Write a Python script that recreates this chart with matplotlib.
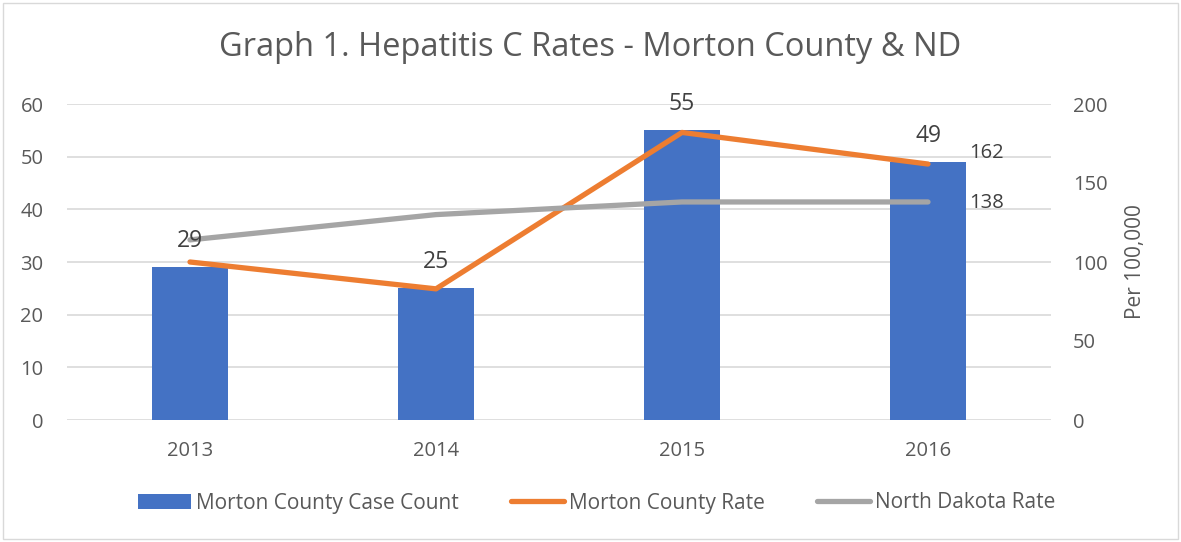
import matplotlib.pyplot as plt
from matplotlib.patches import Rectangle

# chart data
years = ["2013", "2014", "2015", "2016"]
case_count = [29, 25, 55, 49]
morton_rate = [100, 83, 182, 162]
nd_rate = [114, 130, 138, 138]

plt.rcParams['font.family'] = ['Open Sans', 'DejaVu Sans']
txt = '#595959'

fig = plt.figure(figsize=(11.81, 5.42), dpi=100)
ax = fig.add_axes([67 / 1181, 1 - 420 / 542, 984 / 1181, 316 / 542])
ax2 = ax.twinx()

x = list(range(len(years)))
bars = ax.bar(x, case_count, width=0.31, color='#4472C4', zorder=2,
              label='Morton County Case Count')
ax2.plot(x, morton_rate, color='#ED7D31', lw=3.8, solid_capstyle='round',
         label='Morton County Rate', zorder=3)
ax2.plot(x, nd_rate, color='#A5A5A5', lw=3.8, solid_capstyle='round',
         label='North Dakota Rate', zorder=3)

ax.set_xlim(-0.5, 3.5)
ax.set_ylim(0, 60)
ax.set_yticks(range(0, 61, 10))
ax2.set_ylim(0, 200)
ax2.set_yticks(range(0, 201, 50))
ax.set_xticks(x)
ax.set_xticklabels(years)
ax.grid(axis='y', color='#D9D9D9', lw=1.2, zorder=0)
ax.set_axisbelow(True)

for a in (ax, ax2):
    for s in a.spines.values():
        s.set_visible(False)
    a.tick_params(length=0, labelsize=14.5, colors=txt)
ax.tick_params(axis='y', pad=17)
ax.tick_params(axis='x', pad=15)
ax2.tick_params(axis='y', pad=16)
ax2.set_ylabel('Per 100,000', fontsize=15, color=txt, labelpad=12)

# keep lines above the bars
ax.set_zorder(1)
ax2.set_zorder(2)
ax.patch.set_visible(False)

for xi, v in zip(x, case_count):
    ax2.annotate(str(v), (xi, v * 200 / 60), xytext=(0, 10), textcoords='offset points',
                 ha='center', va='bottom', fontsize=16.5, color='#404040', zorder=5)
ax2.annotate(str(morton_rate[-1]), (x[-1], morton_rate[-1]), xytext=(30, 1),
             textcoords='offset points', ha='left', va='bottom', fontsize=14.5, color='#404040')
ax2.annotate(str(nd_rate[-1]), (x[-1], nd_rate[-1]), xytext=(30, -1),
             textcoords='offset points', ha='left', va='center', fontsize=14.5, color='#404040')

fig.text(0.5, 1 - 48 / 542, 'Graph 1. Hepatitis C Rates - Morton County & ND',
         ha='center', va='center', fontsize=23.5, color=txt)

h1, l1 = ax.get_legend_handles_labels()
h2, l2 = ax2.get_legend_handles_labels()
fig.legend(h1 + h2, l1 + l2, loc='center', bbox_to_anchor=(0.505, 1 - 503 / 542),
           ncol=3, frameon=False, fontsize=15, labelcolor=txt,
           handlelength=2.55, handletextpad=0.24, columnspacing=2.5)

fig.add_artist(Rectangle((3 / 1181, 3 / 542), 1175 / 1181, 536 / 542,
                         transform=fig.transFigure, fill=False, edgecolor='#D9D9D9', lw=1))

fig.savefig('out.png', dpi=100)
